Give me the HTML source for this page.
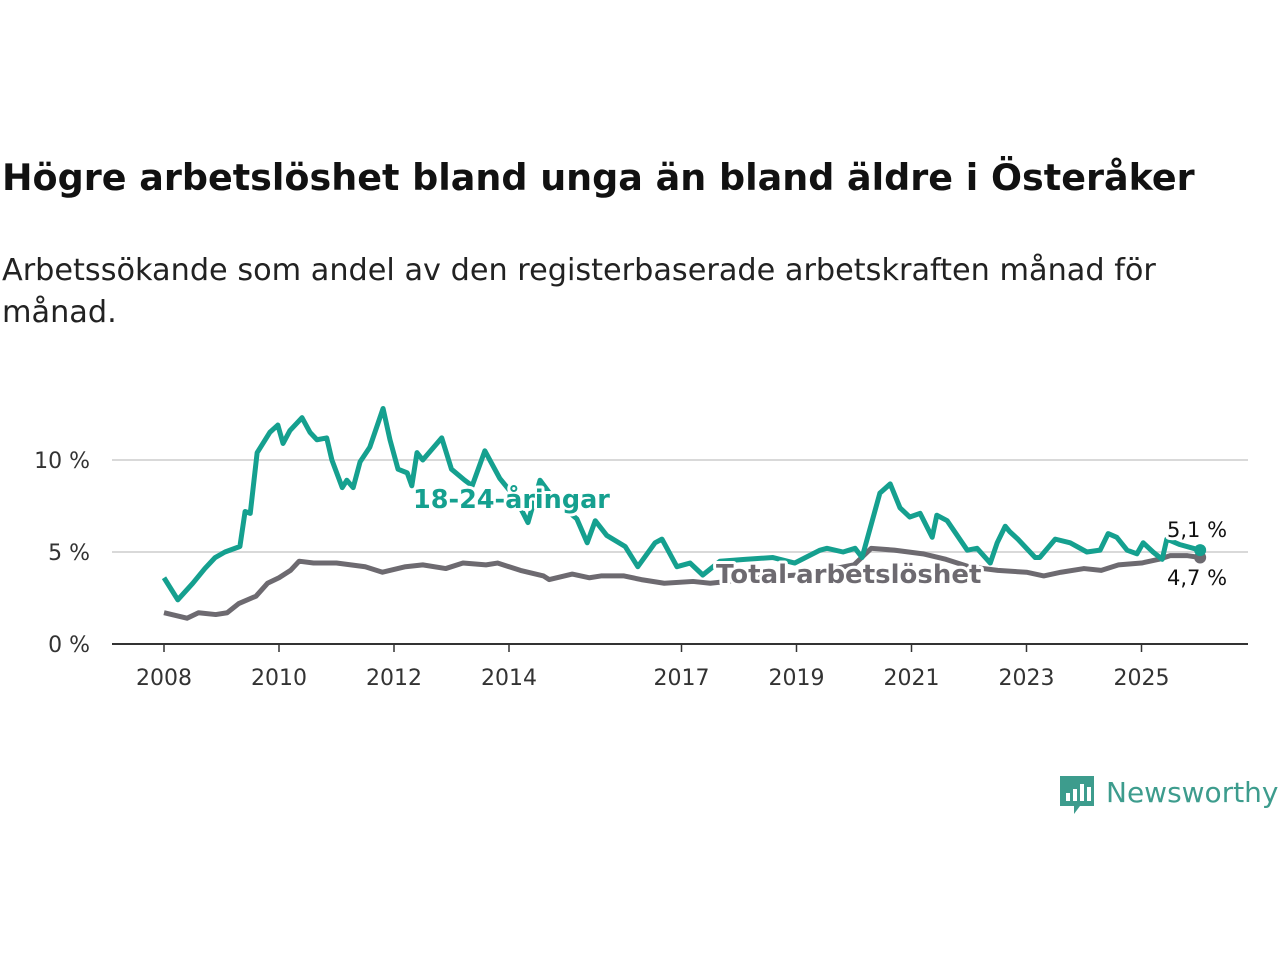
<!DOCTYPE html>
<html><head><meta charset="utf-8"><style>
body{margin:0;background:#fff;width:1280px;height:960px;overflow:hidden;font-family:"Liberation Sans",sans-serif}
svg text{font-family:"DejaVu Sans","Liberation Sans",sans-serif}
</style></head><body>
<svg width="1280" height="960">
<text x="2" y="190" font-size="36.5" font-weight="bold" fill="#111">Högre arbetslöshet bland unga än bland äldre i Österåker</text>
<text x="2" y="280" font-size="30.3" fill="#222">Arbetssökande som andel av den registerbaserade arbetskraften månad för</text>
<text x="2" y="322" font-size="30.3" fill="#222">månad.</text>
<g id="axes"></g>
<g id="lines"></g>
<g id="labels"></g>
<g>
<path d="M1060 776h34v30h-14l-6 8v-8h-14z" fill="#3d9c8d"/>
<rect x="1066" y="793" width="4" height="8" fill="#fff"/><rect x="1073" y="789" width="4" height="12" fill="#fff"/><rect x="1080" y="784" width="4" height="17" fill="#fff"/><rect x="1087" y="787" width="4" height="14" fill="#fff"/>
<text x="1106" y="802" font-size="28" fill="#3d9c8d" font-family="Liberation Sans">Newsworthy</text>
</g>
</svg>
<script>
const youthDates=[2008.0,2008.24,2008.5,2008.71,2008.89,2009.06,2009.32,2009.41,2009.5,2009.62,2009.84,2009.98,2010.07,2010.19,2010.4,2010.54,2010.66,2010.83,2010.92,2011.1,2011.18,2011.29,2011.41,2011.58,2011.81,2011.93,2012.07,2012.23,2012.31,2012.4,2012.5,2012.83,2013.0,2013.23,2013.36,2013.58,2013.84,2014.1,2014.33,2014.54,2014.8,2015.18,2015.36,2015.5,2015.7,2016.02,2016.24,2016.54,2016.66,2016.92,2017.15,2017.37,2017.67,2018.1,2018.59,2018.97,2019.41,2019.53,2019.81,2020.02,2020.14,2020.45,2020.63,2020.8,2020.97,2021.15,2021.36,2021.44,2021.62,2021.97,2022.14,2022.37,2022.49,2022.63,2022.71,2022.85,2023.15,2023.23,2023.5,2023.76,2024.05,2024.28,2024.42,2024.57,2024.75,2024.92,2025.03,2025.2,2025.36,2025.44,2025.67,2025.9,2026.02];
const youthValues=[3.6,2.4,3.3,4.1,4.7,5.0,5.3,7.2,7.1,10.4,11.5,11.9,10.9,11.6,12.3,11.5,11.1,11.2,10.0,8.5,8.9,8.5,9.9,10.7,12.8,11.1,9.5,9.3,8.6,10.4,10.0,11.2,9.5,8.9,8.6,10.5,9.0,8.0,6.6,8.9,7.8,6.8,5.5,6.7,5.9,5.3,4.2,5.5,5.7,4.2,4.4,3.75,4.5,4.6,4.7,4.4,5.1,5.2,5.0,5.2,4.7,8.2,8.7,7.4,6.9,7.1,5.8,7.0,6.7,5.1,5.2,4.4,5.5,6.4,6.1,5.7,4.7,4.7,5.7,5.5,5.0,5.1,6.0,5.8,5.1,4.9,5.5,5.0,4.6,5.7,5.4,5.2,5.1];
const totalDates=[2008.0,2008.4,2008.6,2008.9,2009.1,2009.3,2009.6,2009.8,2010.0,2010.2,2010.35,2010.6,2011.0,2011.5,2011.8,2012.2,2012.5,2012.9,2013.2,2013.6,2013.8,2014.2,2014.6,2014.7,2015.1,2015.4,2015.6,2016.0,2016.3,2016.7,2017.2,2017.5,2017.8,2018.3,2018.8,2019.2,2019.5,2020.0,2020.3,2020.7,2021.2,2021.6,2022.0,2022.5,2023.0,2023.3,2023.6,2024.0,2024.3,2024.6,2025.0,2025.3,2025.5,2025.8,2026.02];
const totalValues=[1.7,1.4,1.7,1.6,1.7,2.2,2.6,3.3,3.6,4.0,4.5,4.4,4.4,4.2,3.9,4.2,4.3,4.1,4.4,4.3,4.4,4.0,3.7,3.5,3.8,3.6,3.7,3.7,3.5,3.3,3.4,3.3,3.4,3.6,3.7,3.8,4.0,4.3,5.2,5.1,4.9,4.6,4.2,4.0,3.9,3.7,3.9,4.1,4.0,4.3,4.4,4.6,4.8,4.8,4.7];
const yTicks=[0,5,10];
const yTickLabels=["0 %","5 %","10 %"];
const xTicks=[2008,2010,2012,2014,2017,2019,2021,2023,2025];
const NS="http://www.w3.org/2000/svg";
const X=v=>164+(v-2008)*57.5, Y=v=>644-v*18.4;
function mk(t,a,p){const e=document.createElementNS(NS,t);for(const k in a)e.setAttribute(k,a[k]);p.appendChild(e);return e;}
const ax=document.getElementById('axes');
yTicks.forEach((t,i)=>{
 if(t>0){const g=mk('line',{x1:112,x2:1248,y1:Y(t),y2:Y(t),stroke:'#d9d9d9','stroke-width':2},ax);
 
 }
 const l=mk('text',{x:90,y:Y(t)+8,'text-anchor':'end','font-size':22,fill:'#333'},ax);l.textContent=yTickLabels[i];
 
 
});
const base=mk('line',{x1:112,x2:1248,y1:644,y2:644,stroke:'#333','stroke-width':2},ax);


xTicks.forEach(t=>{
 mk('line',{x1:X(t),x2:X(t),y1:644,y2:652,stroke:'#333','stroke-width':1.5},ax);
 const l=mk('text',{x:X(t),y:685,'text-anchor':'middle','font-size':22,fill:'#333'},ax);l.textContent=t;
 
 
});
const ln=document.getElementById('lines');
function line(d,v,c,name){
 const p=mk('polyline',{points:d.map((x,i)=>X(x)+','+Y(v[i])).join(' '),fill:'none',stroke:c,'stroke-width':5,'stroke-linejoin':'round'},ln);
 
 
 const c2=mk('circle',{cx:X(d[d.length-1]),cy:Y(v[v.length-1]),r:6,fill:c},ln);
 
 
}
line(totalDates,totalValues,'#6d6a70','total-line');
line(youthDates,youthValues,'#15a08f','youth-line');
const lb=document.getElementById('labels');
function lab(x,y,t,c,s,w,name){
 const e=mk('text',{x:x,y:y,'font-size':s,'font-weight':w,fill:c,stroke:'#fff','stroke-width':6,'paint-order':'stroke','stroke-linejoin':'round'},lb);
 e.textContent=t;
 
 
}
lab(413,508,'18-24-åringar','#15a08f',25.5,'bold','youth-series-label');
lab(716,583,'Total arbetslöshet','#6d6a70',26,'bold','total-series-label');
lab(1167,537,'5,1 %','#111',21,'normal','youth-end-value');
lab(1167,585,'4,7 %','#111',21,'normal','total-end-value');
</script>
</body></html>
